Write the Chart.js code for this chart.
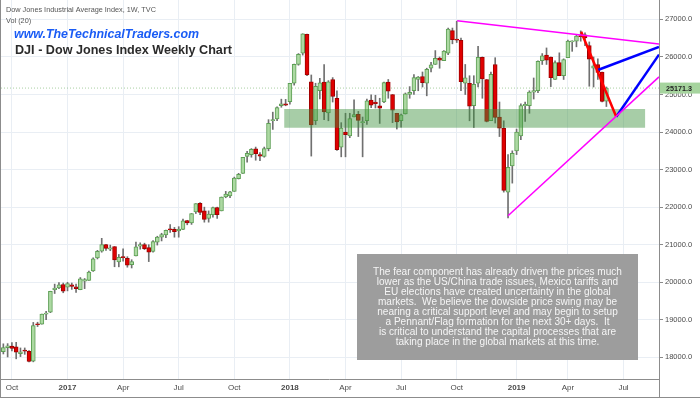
<!DOCTYPE html>
<html>
<head>
<meta charset="utf-8">
<title>DJI - Dow Jones Index Weekly Chart</title>
<script src="https://cdn.jsdelivr.net/npm/chart.js@4.4.0/dist/chart.umd.min.js"></script>
<style>
  html, body { margin: 0; padding: 0; background: #fff; }
  #wrap { width: 700px; height: 399px; }
</style>
</head>
<body>
<div id="wrap"><canvas id="chart" width="700" height="399"></canvas></div>
<script>
// weekly candles, index 0 = week of 19 Sep 2016, last = week of 3 Jun 2019
const opens = [
  18150, 18260, 18300, 18280, 18100, 18190, 18160, 17900, 18870, 18880,
  19150, 19200, 19800, 19850, 19940, 19870, 19930, 19880, 19800, 20030,
  20050, 20300, 20650, 20830, 21000, 20880, 20950, 20540, 20660, 20640,
  20470, 20700, 20960, 21000, 20920, 20820, 21070, 21200, 21260, 21400,
  21410, 21370, 21410, 21640, 21580, 21870, 22100, 21900, 21700, 21800,
  21990, 21900, 22270, 22300, 22420, 22760, 22900, 23350, 23400, 23550,
  23400, 23350, 23560, 24300, 24350, 24700, 24750, 24810, 25300, 25800,
  26100, 26600, 25340, 24300, 25100, 25330, 24510, 25400, 24900, 23600,
  24000, 23900, 24400, 24470, 24250, 24300, 24850, 24800, 24700, 24800,
  25330, 25000, 24500, 24300, 24480, 25000, 25100, 25400, 25480, 25300,
  25700, 25800, 25970, 25900, 26100, 26700, 26460, 26440, 25300, 25300,
  24700, 25300, 25990, 25400, 24300, 25800, 24400, 24100, 22400, 23100,
  23500, 23900, 24700, 24700, 25060, 25100, 25900, 26050, 26000, 25400,
  25850, 25500, 25980, 26400, 26420, 26550, 26590, 26300, 25700, 25800,
  25600, 24820
];
const highs = [
  18360, 18365, 18390, 18400, 18250, 18250, 18180, 18930, 18935, 19155,
  19225, 19760, 19950, 19990, 19980, 19999, 19980, 19950, 20125, 20100,
  20298, 20650, 20850, 21170, 21010, 20990, 20950, 20740, 20887, 20680,
  20600, 21070, 21050, 21040, 21000, 21110, 21225, 21305, 21391, 21535,
  21460, 21480, 21681, 21650, 21830, 22093, 22120, 22000, 21900, 22000,
  22000, 22270, 22420, 22420, 22800, 22900, 23330, 23485, 23560, 23600,
  23450, 23600, 24330, 24530, 24670, 24876, 24870, 25300, 25810, 26090,
  26617, 26610, 25520, 25300, 25430, 25800, 25370, 25450, 25100, 24250,
  24500, 24500, 24860, 24550, 24400, 24880, 24990, 24980, 24900, 25330,
  25400, 25000, 24500, 24480, 25040, 25210, 25530, 25480, 25600, 25700,
  25860, 26170, 26000, 26170, 26770, 26770, 26951, 26500, 25800, 25500,
  25500, 26280, 26000, 25400, 25600, 25980, 24800, 24300, 23400, 23500,
  24080, 24750, 24800, 25100, 25440, 25900, 26090, 26240, 26000, 25900,
  26110, 25950, 26450, 26430, 26600, 26695, 26640, 26400, 26000, 25950,
  25600, 25200
];
const lows = [
  18090, 18010, 18170, 17960, 18020, 18080, 17880, 17880, 18820, 18880,
  19000, 19190, 19700, 19830, 19720, 19770, 19810, 19730, 19800, 19830,
  20050, 20290, 20620, 20800, 20850, 20840, 20412, 20410, 20560, 20400,
  20380, 20700, 20880, 20870, 20550, 20800, 20990, 21100, 21190, 21330,
  21200, 21200, 21400, 21530, 21540, 21830, 21800, 21600, 21600, 21730,
  21700, 21900, 22250, 22250, 22420, 22750, 22900, 23200, 23330, 23250,
  23240, 23330, 23500, 24070, 24300, 24660, 24700, 24740, 25250, 25780,
  26050, 25500, 23360, 24200, 24880, 24330, 24300, 24800, 23510, 23340,
  23340, 23850, 24400, 23880, 23340, 24200, 24650, 24640, 24230, 24780,
  24900, 24250, 24080, 24130, 24480, 24900, 25000, 25100, 25200, 24965,
  25600, 25800, 25700, 25900, 26060, 26350, 26385, 25100, 25000, 24300,
  24120, 25200, 24900, 24270, 24300, 24240, 23880, 22400, 21712, 22640,
  23400, 23800, 24280, 24500, 24880, 25050, 25800, 25800, 25210, 25400,
  25500, 25400, 25980, 26150, 26270, 26420, 26300, 25220, 25200, 25400,
  24800, 24680
];
const closes = [
  18261, 18308, 18240, 18138, 18145, 18161, 17888, 18847, 18868, 19152,
  19171, 19757, 19843, 19934, 19763, 19964, 19886, 19827, 20094, 20071,
  20269, 20624, 20822, 21005, 20903, 20914, 20596, 20663, 20656, 20453,
  20548, 20940, 21006, 20896, 20804, 21080, 21206, 21271, 21384, 21394,
  21350, 21414, 21637, 21580, 21830, 22092, 21858, 21674, 21813, 21988,
  21797, 22268, 22350, 22405, 22773, 22871, 23329, 23434, 23539, 23422,
  23358, 23558, 24231, 24329, 24651, 24754, 24719, 25295, 25803, 26072,
  26617, 25521, 24190, 25219, 25310, 24538, 25336, 24946, 23533, 24103,
  23933, 24360, 24463, 24311, 24263, 24831, 24715, 24753, 24635, 25317,
  25090, 24581, 24271, 24456, 25019, 25058, 25451, 25463, 25313, 25669,
  25790, 25965, 25917, 26154, 26744, 26458, 26447, 25340, 25444, 24688,
  25271, 25989, 25413, 24286, 25538, 24389, 24101, 22445, 23062, 23433,
  23996, 24706, 24737, 25064, 25106, 25883, 26031, 25916, 25450, 25849,
  25502, 25929, 26425, 26412, 26559, 26543, 26505, 25942, 25764, 25586,
  24815, 25171.3
];

// axis ticks (x in weeks from the first candle)
const xTickPos = [2, 15, 28, 41, 54, 67, 80, 93, 106, 120, 132, 145];
const xTickLabels = ['Oct', '2017', 'Apr', 'Jul', 'Oct', '2018', 'Apr', 'Jul', 'Oct', '2019', 'Apr', 'Jul'];
const yTicks = [18000, 19000, 20000, 21000, 22000, 23000, 24000, 25000, 26000, 27000];
const lastPrice = 25171.3;

// drawn trend lines and support zone, [week, price]
const upperTrend = [[106.1, 26965], [153.3, 26345]];
const lowerTrend = [[118.0, 21772], [153.3, 25470]];
const redLeg = [[135.1, 26672], [143.3, 24409]];
const blueLeg1 = [[139.0, 25652], [153.3, 26265]];
const blueLeg2 = [[143.3, 24409], [153.3, 26063]];
const supportZone = { from: 65.65, to: 150.1, top: 24614, bottom: 24116 };

const note = [
  'The fear component has already driven the prices much',
  'lower as the US/China trade issues, Mexico tariffs and',
  'EU elections have created uncertainty in the global',
  'markets.  We believe the dowside price swing may be',
  'nearing a critical support level and may begin to setup',
  'a Pennant/Flag formation for the next 30+ days.  It',
  'is critical to understand the capital processes that are',
  'taking place in the global markets at this time.'
];

const FONT = 'Liberation Sans, Arial, sans-serif';
const xMin = -0.55, xMax = 153.3;

const weeks = opens.map((_, i) => i);
const up = weeks.map(i => closes[i] >= opens[i]);
const bodies = weeks.map(i => ({ x: i, y: [opens[i], closes[i]] }));
const wicks = weeks.map(i => ({ x: i, y: [lows[i], highs[i]] }));
const toPts = arr => arr.map(p => ({ x: p[0], y: p[1] }));

function trendLine(arr, color, width) {
  return {
    type: 'line', data: toPts(arr), borderColor: color, borderWidth: width,
    pointRadius: 0, fill: false, order: 0
  };
}

// set a font so the text gets the given width
function fitFont(ctx, text, width, style) {
  ctx.font = style + ' 20px ' + FONT;
  const size = 20 * width / ctx.measureText(text).width;
  ctx.font = style + ' ' + size.toFixed(2) + 'px ' + FONT;
  return size;
}

const decorations = {
  id: 'decorations',
  beforeDraw(chart) {
    const ctx = chart.ctx;
    ctx.save();
    ctx.fillStyle = '#ffffff';
    ctx.fillRect(0, 0, chart.width, chart.height);
    ctx.restore();
  },
  afterDraw(chart) {
    const ctx = chart.ctx;
    const area = chart.chartArea;
    const y = chart.scales.y;
    ctx.save();

    // header
    ctx.textBaseline = 'middle';
    ctx.textAlign = 'left';
    ctx.fillStyle = '#555';
    fitFont(ctx, 'Dow Jones Industrial Average Index, 1W, TVC', 150, 'normal');
    ctx.fillText('Dow Jones Industrial Average Index, 1W, TVC', 6, 10);
    ctx.fillText('Vol (20)', 6, 20.5);

    ctx.fillStyle = '#1a5cf5';
    fitFont(ctx, 'www.TheTechnicalTraders.com', 185, 'italic bold');
    ctx.fillText('www.TheTechnicalTraders.com', 14, 35);
    ctx.fillStyle = '#2b2b2b';
    fitFont(ctx, 'DJI - Dow Jones Index Weekly Chart', 217, 'bold');
    ctx.fillText('DJI - Dow Jones Index Weekly Chart', 15, 51);

    // comment box
    ctx.fillStyle = '#9d9d9d';
    ctx.fillRect(357, 254, 281, 106);
    ctx.fillStyle = '#f5f5f5';
    ctx.textAlign = 'center';
    fitFont(ctx, note[0], 249, 'normal');
    note.forEach((line, i) => ctx.fillText(line, 497.5, 272.7 + i * 9.86));

    // last price tag
    const py = y.getPixelForValue(lastPrice);
    ctx.fillStyle = '#a6d49e';
    ctx.fillRect(area.right + 1, py - 5.5, chart.width - area.right - 1, 11);
    ctx.fillStyle = '#1e1e1e';
    ctx.textAlign = 'left';
    fitFont(ctx, '25171.3', 26, 'bold');
    ctx.fillText(lastPrice.toFixed(1), 666, py + 0.5);

    // frame
    ctx.strokeStyle = '#8c8c8c';
    ctx.lineWidth = 1;
    ctx.beginPath();
    ctx.moveTo(0.5, 0); ctx.lineTo(0.5, 397.5);
    ctx.moveTo(0, 397.5); ctx.lineTo(chart.width, 397.5);
    ctx.moveTo(0, area.bottom + 0.5); ctx.lineTo(area.right, area.bottom + 0.5);
    ctx.moveTo(area.right + 0.5, 0); ctx.lineTo(area.right + 0.5, 398);
    ctx.stroke();
    ctx.restore();
  }
};

new Chart(document.getElementById('chart'), {
  data: {
    datasets: [
      trendLine(upperTrend, '#ff00ff', 1.5),
      trendLine(lowerTrend, '#ff00ff', 1.5),
      trendLine(redLeg, '#ff0000', 2.5),
      trendLine(blueLeg1, '#0000ff', 2.5),
      trendLine(blueLeg2, '#0000ff', 2.5),
      {
        type: 'line',
        data: [{ x: supportZone.from, y: supportZone.top }, { x: supportZone.to, y: supportZone.top }],
        borderColor: 'rgba(0,0,0,0)', borderWidth: 0, pointRadius: 0,
        fill: { value: supportZone.bottom },
        backgroundColor: 'rgba(60,145,60,0.45)',
        order: 1
      },
      {
        type: 'line',
        data: [{ x: xMin, y: lastPrice }, { x: xMax, y: lastPrice }],
        borderColor: 'rgba(110,175,100,0.6)', borderWidth: 1, borderDash: [1, 2],
        pointRadius: 0, fill: false, order: 7
      },
      {
        type: 'bar', data: wicks, barThickness: 1, grouped: false,
        backgroundColor: '#707070', order: 6
      },
      {
        type: 'bar', data: bodies, barThickness: 4, grouped: false, minBarLength: 1,
        backgroundColor: up.map(u => u ? '#acd9a2' : '#e00000'),
        borderColor: up.map(u => u ? '#5e9f55' : '#a00000'),
        borderWidth: 1, borderSkipped: false, order: 5
      }
    ]
  },
  options: {
    responsive: false,
    animation: false,
    layout: { padding: { left: 1, top: 0, right: 0, bottom: 2 } },
    plugins: { legend: { display: false }, tooltip: { enabled: false } },
    scales: {
      x: {
        type: 'linear', min: xMin, max: xMax, offset: false,
        afterFit: s => { s.height = 18; s.paddingLeft = 0; s.paddingRight = 0; },
        afterBuildTicks: s => { s.ticks = xTickPos.map(v => ({ value: v })); },
        ticks: {
          autoSkip: false, maxRotation: 0, padding: 4, color: '#4a4a4a',
          callback: (v, i) => xTickLabels[i],
          font: c => ({ family: FONT, size: 8, weight: /^\d{4}$/.test(xTickLabels[c.index] || '') ? 'bold' : 'normal' })
        },
        grid: { color: '#e9eef4', drawTicks: false, offset: false },
        border: { display: false }
      },
      y: {
        position: 'right', min: 17423, max: 27517,
        afterFit: s => { s.width = 41; s.paddingTop = 0; s.paddingBottom = 0; },
        afterBuildTicks: s => { s.ticks = yTicks.map(v => ({ value: v })); },
        ticks: {
          padding: 2, color: '#4a4a4a', font: { family: FONT, size: 7.5 },
          callback: v => v.toFixed(1)
        },
        grid: { color: '#e9eef4', tickColor: '#8a8a8a', tickLength: 4 },
        border: { display: false }
      }
    }
  },
  plugins: [decorations]
});
</script>
</body>
</html>
